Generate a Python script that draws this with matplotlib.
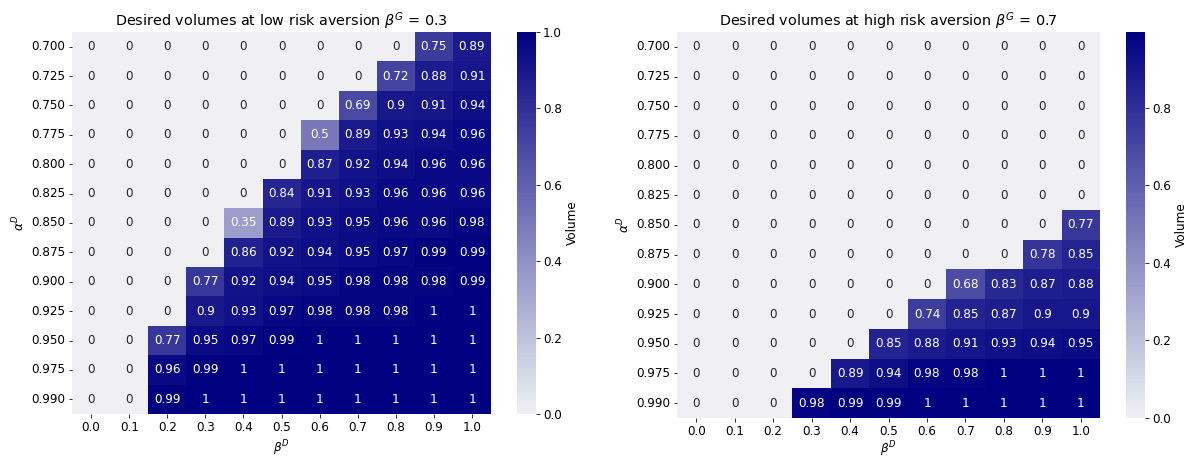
import numpy as np
import matplotlib
matplotlib.use("Agg")
import matplotlib.pyplot as plt
import seaborn as sns

# axis labels
beta_d = ["0.0", "0.1", "0.2", "0.3", "0.4", "0.5", "0.6", "0.7", "0.8", "0.9", "1.0"]
alpha_d = ["0.700", "0.725", "0.750", "0.775", "0.800", "0.825", "0.850",
           "0.875", "0.900", "0.925", "0.950", "0.975", "0.990"]

# desired volumes, beta^G = 0.3 (rows = alpha^D, cols = beta^D)
vol_low = [
    [0, 0, 0, 0, 0, 0, 0, 0, 0, 0.75, 0.89],
    [0, 0, 0, 0, 0, 0, 0, 0, 0.72, 0.88, 0.91],
    [0, 0, 0, 0, 0, 0, 0, 0.69, 0.9, 0.91, 0.94],
    [0, 0, 0, 0, 0, 0, 0.5, 0.89, 0.93, 0.94, 0.96],
    [0, 0, 0, 0, 0, 0, 0.87, 0.92, 0.94, 0.96, 0.96],
    [0, 0, 0, 0, 0, 0.84, 0.91, 0.93, 0.96, 0.96, 0.96],
    [0, 0, 0, 0, 0.35, 0.89, 0.93, 0.95, 0.96, 0.96, 0.98],
    [0, 0, 0, 0, 0.86, 0.92, 0.94, 0.95, 0.97, 0.99, 0.99],
    [0, 0, 0, 0.77, 0.92, 0.94, 0.95, 0.98, 0.98, 0.98, 0.99],
    [0, 0, 0, 0.9, 0.93, 0.97, 0.98, 0.98, 0.98, 1, 1],
    [0, 0, 0.77, 0.95, 0.97, 0.99, 1, 1, 1, 1, 1],
    [0, 0, 0.96, 0.99, 1, 1, 1, 1, 1, 1, 1],
    [0, 0, 0.99, 1, 1, 1, 1, 1, 1, 1, 1],
]

# desired volumes, beta^G = 0.7 (shown "1" values are just under 1)
vol_high = [
    [0, 0, 0, 0, 0, 0, 0, 0, 0, 0, 0],
    [0, 0, 0, 0, 0, 0, 0, 0, 0, 0, 0],
    [0, 0, 0, 0, 0, 0, 0, 0, 0, 0, 0],
    [0, 0, 0, 0, 0, 0, 0, 0, 0, 0, 0],
    [0, 0, 0, 0, 0, 0, 0, 0, 0, 0, 0],
    [0, 0, 0, 0, 0, 0, 0, 0, 0, 0, 0],
    [0, 0, 0, 0, 0, 0, 0, 0, 0, 0, 0.77],
    [0, 0, 0, 0, 0, 0, 0, 0, 0, 0.78, 0.85],
    [0, 0, 0, 0, 0, 0, 0, 0.68, 0.83, 0.87, 0.88],
    [0, 0, 0, 0, 0, 0, 0.74, 0.85, 0.87, 0.9, 0.9],
    [0, 0, 0, 0, 0, 0.85, 0.88, 0.91, 0.93, 0.94, 0.95],
    [0, 0, 0, 0, 0.89, 0.94, 0.98, 0.98, 0.996, 0.996, 0.996],
    [0, 0, 0, 0.98, 0.99, 0.99, 0.996, 0.996, 0.996, 0.996, 0.996],
]

cmap = sns.light_palette("navy", as_cmap=True)

plt.rcParams["font.size"] = 12
plt.rcParams["axes.titlesize"] = 14.4

fig = plt.figure(figsize=(1189 / 72, 457 / 72), dpi=72)


def draw_panel(ax, cax, data, title, xpad=4):
    sns.heatmap(np.array(data), ax=ax, cbar_ax=cax, cmap=cmap, annot=True,
                annot_kws={"fontsize": 12},
                xticklabels=beta_d, yticklabels=alpha_d,
                cbar_kws={"label": "Volume"})
    ax.set_title(title)
    ax.set_xlabel(r"$\beta^D$", labelpad=xpad)
    ax.set_ylabel(r"$\alpha^D$")
    ax.tick_params(axis="y", rotation=0, labelsize=12)
    ax.tick_params(axis="x", rotation=0, labelsize=12)
    cax.tick_params(labelsize=12)


# left panel
ax1 = fig.add_axes([0.0606, 0.0941, 0.3524, 0.8359])
cax1 = fig.add_axes([0.4348, 0.0941, 0.016, 0.8359])
draw_panel(ax1, cax1, vol_low, r"Desired volumes at low risk aversion $\beta^G$ = 0.3")

# right panel
ax2 = fig.add_axes([0.5694, 0.0855, 0.3558, 0.8445])
cax2 = fig.add_axes([0.947, 0.0855, 0.016, 0.8445])
draw_panel(ax2, cax2, vol_high, r"Desired volumes at high risk aversion $\beta^G$ = 0.7",
           xpad=1)

fig.savefig("out.png", dpi=72)
